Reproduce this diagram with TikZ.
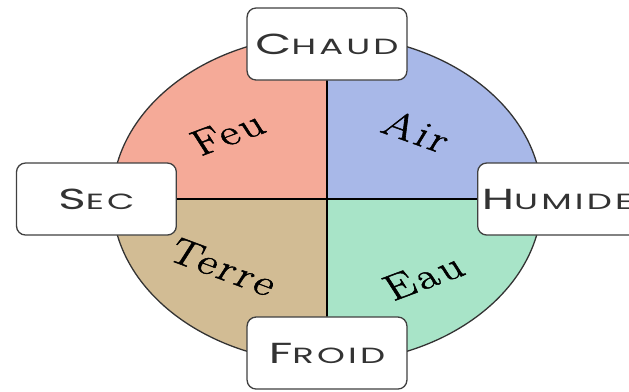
\documentclass[tikz,border=0pt]{standalone}
\usepackage{fontspec}
\newfontfamily\boxfont{Poppins}[LetterSpace=9]
\newfontfamily\elemfont{Latin Modern Roman}[LetterSpace=7,FakeBold=1.3]
\definecolor{feu}{HTML}{F5AA98}
\definecolor{air}{HTML}{A8B8E8}
\definecolor{terre}{HTML}{D2BC94}
\definecolor{eau}{HTML}{A8E4C8}
\newcommand\mysc[2]{\scalebox{1.23}[1]{{\fontsize{29}{29}\selectfont #1}{\fontsize{22}{22}\selectfont #2}}}
\begin{document}
\begin{tikzpicture}[x=1pt,y=1pt,xscale=1.31,
  every node/.style={transform shape},
  statebox/.style={draw=black!75, line width=1.3pt, rounded corners=9pt, fill=white,
    minimum width=122pt, minimum height=72pt, inner sep=0pt, font=\boxfont, text=black!80},
  elem/.style={font=\elemfont\fontsize{36}{36}\selectfont, inner sep=0pt, text=black},
  axis/.style={line width=1.9pt, black}]
\useasboundingbox (-249.6,-192) rectangle (230.5,199);
\coordinate (O) at (0,0);
\fill[feu] (O) -- (-164,0) arc[start angle=180,end angle=90,radius=164] -- cycle;
\fill[air] (O) -- (0,164) arc[start angle=90,end angle=0,radius=164] -- cycle;
\fill[eau] (O) -- (164,0) arc[start angle=0,end angle=-90,radius=164] -- cycle;
\fill[terre] (O) -- (0,-164) arc[start angle=-90,end angle=-180,radius=164] -- cycle;
\draw[line width=1.3pt, black!80] (O) circle[radius=164];
\node[elem, rotate=26] (feulbl) at (-76,66) {Feu};
\node[elem, rotate=-25] (airlbl) at (68.5,68) {Air};
\node[elem, rotate=-26] (terrelbl) at (-79,-68) {Terre};
\node[elem, rotate=26] (eaulbl) at (73.5,-77.7) {Eau};
\node[statebox] (chaud) at (0,155) {\mysc{C}{HAUD}};
\node[statebox] (froid) at (0,-154) {\mysc{F}{ROID}};
\node[statebox] (sec) at (-176,0) {\mysc{S}{EC}};
\node[statebox] (humide) at (176,0) {\mysc{H}{UMIDE}};
\draw[axis] (chaud) -- (froid);
\draw[axis] (sec) -- (humide);
\end{tikzpicture}
\end{document}
